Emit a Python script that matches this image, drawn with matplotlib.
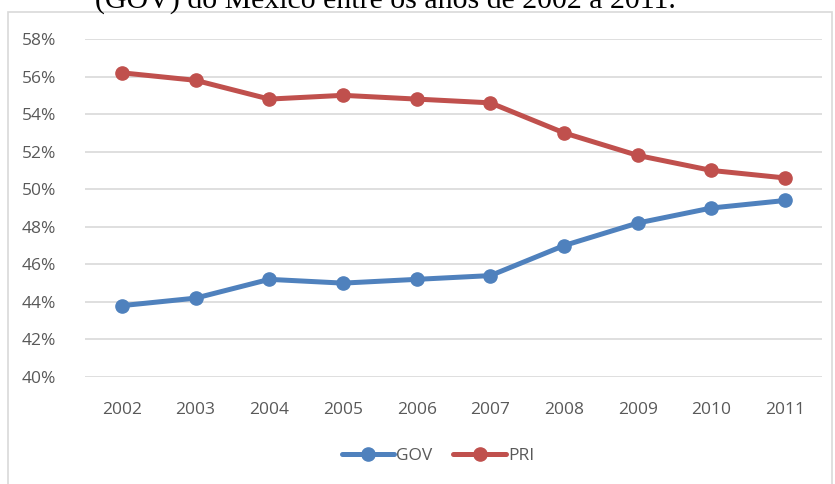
import matplotlib.pyplot as plt
from matplotlib.patches import Rectangle
from matplotlib.ticker import FuncFormatter

years = ['2002', '2003', '2004', '2005', '2006', '2007', '2008', '2009', '2010', '2011']
gov = [43.8, 44.2, 45.2, 45.0, 45.2, 45.4, 47.0, 48.2, 49.0, 49.4]
pri = [56.2, 55.8, 54.8, 55.0, 54.8, 54.6, 53.0, 51.8, 51.0, 50.6]

plt.rcParams['font.family'] = ['Open Sans', 'DejaVu Sans']

fig = plt.figure(figsize=(8.35, 4.84), dpi=100)
W, H = 835, 484

# chart frame (bottom runs off the picture)
fig.patches.append(Rectangle((8 / W, -0.05), 824 / W, 1.05 - 12 / H,
                             transform=fig.transFigure, fill=False,
                             edgecolor='#d9d9d9', lw=1.2))

# cropped caption above the chart
fig.text(385 / W, 1 - 8 / H, '(GOV) do México entre os anos de 2002 a 2011.',
         family='Liberation Serif', fontsize=21.5, ha='center', va='baseline',
         color='black')

ax = fig.add_axes([85 / W, 1 - 377 / H, 737 / W, 338 / H])
x = list(range(len(years)))
ax.plot(x, gov, color='#4f81bd', lw=3.6, marker='o', ms=9.5, label='GOV',
        solid_capstyle='round')
ax.plot(x, pri, color='#c0504d', lw=3.6, marker='o', ms=9.5, label='PRI',
        solid_capstyle='round')

ax.set_xlim(-0.5, len(years) - 0.5)
ax.set_ylim(40, 58)
ax.set_yticks(range(40, 59, 2))
ax.yaxis.set_major_formatter(FuncFormatter(lambda v, p: '%d%%' % v))
ax.set_xticks(x)
ax.set_xticklabels(years)
ax.grid(axis='y', color='#d9d9d9', lw=1.2)
ax.set_axisbelow(True)
for s in ax.spines.values():
    s.set_visible(False)
ax.tick_params(length=0, labelsize=12.5, colors='#595959')
ax.tick_params(axis='x', pad=18)
ax.tick_params(axis='y', pad=21)

fig.legend(loc='center', bbox_to_anchor=(438 / W, 1 - 456 / H), ncol=2,
           frameon=False, fontsize=12.5, labelcolor='#595959',
           handlelength=3.0, handletextpad=0.15, columnspacing=1.2)

fig.savefig('out.png', dpi=100)
